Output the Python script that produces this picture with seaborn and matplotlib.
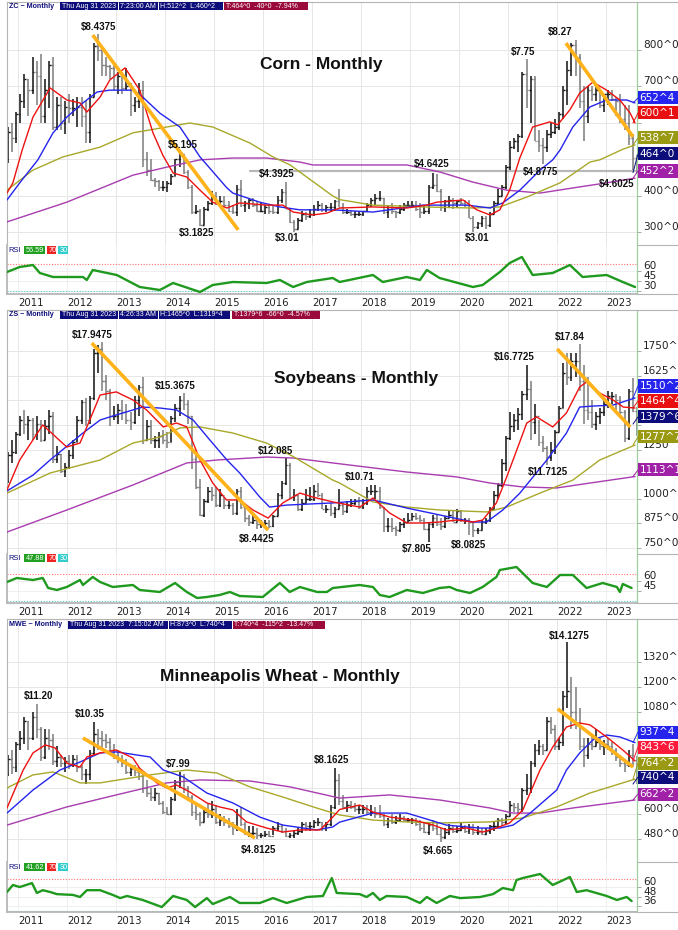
import numpy as np
import pandas as pd
import matplotlib
matplotlib.use("Agg")
import matplotlib.pyplot as plt
from matplotlib.lines import Line2D
from matplotlib.patches import Rectangle
import seaborn as sns

sns.set_theme(style="white")
plt.rcParams["font.family"] = ["DejaVu Sans"]

W, H = 678, 930

# monthly bars Oct 2010 .. Aug 2023
months = pd.date_range("2010-10-01", "2023-08-01", freq="MS")
t_bar = np.asarray(months.year + (months.month - 0.5) / 12.0)
years = list(range(2011, 2024))

# ---------------- Corn (cents) ----------------
corn_open0 = 500
corn_high = [590, 600, 630,
             680, 735, 720, 780, 770, 790, 720, 770, 780, 670, 670, 660,
             680, 665, 670, 670, 660, 680, 820, 843.75, 805, 780, 760, 760,
             740, 740, 750, 710, 670, 710, 715, 520, 500, 450, 445, 440,
             440, 460, 500, 519.5, 515, 470, 430, 375, 365, 370, 385, 415,
             410, 400, 400, 385, 375, 430, 445, 385, 395, 395, 385, 380,
             375, 375, 375, 400, 420, 439.25, 365, 335, 340, 360, 355, 365,
             375, 385, 380, 375, 380, 390, 420, 380, 365, 360, 360, 360,
             360, 380, 395, 405, 415, 395, 375, 380, 360, 375, 380, 385,
             385, 385, 380, 375, 430, 464.25, 460, 420, 390, 400, 395, 390,
             395, 390, 390, 345, 330, 345, 345, 355, 385, 420, 430, 485,
             550, 560, 570, 740, 775, 730, 730, 580, 560, 580, 600, 610,
             630, 700, 770, 820, 827, 790, 700, 700, 700, 700, 690, 680,
             690, 690, 670, 680, 650, 650, 570, 512.25]
corn_low = [490, 520, 545,
            600, 640, 620, 680, 650, 600, 600, 640, 580, 580, 580, 570,
            600, 620, 590, 590, 545, 545, 670, 770, 730, 730, 720, 690,
            680, 680, 690, 620, 630, 640, 480, 455, 440, 425, 415, 415,
            410, 430, 455, 480, 460, 420, 350, 350, 318.25, 320, 360, 375,
            375, 375, 370, 355, 350, 345, 370, 355, 365, 370, 355, 355,
            350, 350, 350, 350, 380, 365, 325, 301, 310, 330, 335, 340,
            345, 360, 355, 355, 360, 360, 370, 350, 350, 345, 340, 345,
            345, 355, 370, 375, 385, 350, 340, 350, 340, 350, 360, 370,
            370, 360, 340, 350, 350, 420, 410, 360, 355, 370, 365, 370,
            375, 370, 340, 301, 310, 315, 310, 315, 350, 375, 400, 420,
            470, 530, 520, 560, 640, 600, 550, 520, 487.75, 520, 560, 570,
            580, 610, 650, 730, 730, 640, 550, 600, 660, 660, 640, 630,
            650, 660, 620, 600, 580, 540, 470, 460.25]
corn_close = [575, 560, 625,
              660, 720, 690, 740, 730, 620, 690, 760, 590, 650, 600, 645,
              640, 640, 645, 620, 575, 670, 810, 800, 760, 755, 750, 700,
              730, 695, 700, 650, 660, 690, 500, 470, 445, 440, 425, 425,
              435, 455, 500, 515, 465, 425, 355, 360, 320, 365, 380, 397,
              385, 385, 375, 360, 355, 420, 375, 380, 390, 375, 360, 360,
              370, 360, 355, 390, 410, 365, 330, 310, 335, 350, 345, 350,
              365, 375, 365, 370, 370, 385, 370, 355, 355, 350, 350, 350,
              360, 375, 390, 395, 395, 355, 365, 360, 355, 365, 375, 375,
              375, 365, 355, 360, 425, 430, 415, 370, 385, 390, 380, 385,
              380, 375, 340, 315, 325, 340, 320, 350, 380, 400, 425, 480,
              535, 550, 565, 735, 690, 720, 550, 540, 535, 570, 575, 590,
              625, 690, 745, 815, 780, 660, 620, 690, 680, 690, 650, 680,
              680, 665, 660, 610, 600, 560, 504, 464]

corn_red_t = [2010.77, 2010.89, 2011.08, 2011.30, 2011.65, 2011.99, 2012.26, 2012.40, 2012.67, 2012.87,
              2013.18, 2013.48, 2013.75, 2013.95, 2014.16, 2014.44, 2014.71, 2014.97, 2015.26, 2015.52,
              2016.07, 2016.40, 2016.61, 2017.01, 2017.30, 2017.56, 2018.24, 2018.93, 2019.34, 2019.54,
              2020.08, 2020.36, 2020.63, 2020.83, 2021.03, 2021.24, 2021.50, 2021.85, 2022.01, 2022.26,
              2022.46, 2022.73, 2023.01, 2023.28, 2023.49, 2023.59]
corn_red_v = [408, 436, 526, 616, 696, 663, 655, 630, 671, 718,
              751, 690, 573, 512, 463, 452, 416, 383, 367, 381,
              375, 375, 356, 348, 353, 367, 370, 367, 375, 383,
              389, 362, 348, 362, 416, 505, 589, 603, 595, 636,
              682, 712, 690, 663, 627, 600]
corn_blue_t = [2010.77, 2011.03, 2011.40, 2011.71, 2011.99, 2012.32, 2012.61, 2012.87, 2013.34, 2013.54,
               2013.89, 2014.30, 2014.71, 2015.26, 2015.38, 2015.93, 2016.34, 2016.75, 2017.42, 2018.24,
               2019.26, 2020.16, 2020.63, 2020.89, 2021.24, 2021.65, 2021.91, 2022.06, 2022.32, 2022.67,
               2023.01, 2023.42, 2023.59]
corn_blue_v = [389, 436, 499, 573, 616, 655, 685, 690, 690, 671,
               627, 589, 507, 422, 408, 383, 370, 362, 362, 356,
               375, 375, 367, 381, 416, 471, 499, 526, 589, 644,
               663, 663, 655]
corn_olive_t = [2010.77, 2011.30, 2011.91, 2012.67, 2013.34, 2014.03, 2014.50, 2014.97, 2015.73, 2016.20,
                2016.55, 2017.42, 2017.56, 2018.24, 2019.26, 2020.28, 2020.83, 2021.38, 2022.06, 2022.67,
                2022.87, 2023.34, 2023.59]
corn_olive_v = [416, 471, 507, 534, 573, 589, 600, 589, 545, 507,
                485, 400, 390, 375, 370, 367, 370, 397, 436, 493,
                499, 528, 540]
corn_purple_t = [2010.77, 2011.99, 2013.34, 2014.03, 2014.71, 2015.38, 2016.07, 2016.75, 2017.01, 2017.56,
                 2018.93, 2019.60, 2020.28, 2020.97, 2021.65, 2022.32, 2023.01, 2023.59]
corn_purple_v = [329, 383, 457, 479, 499, 504, 504, 493, 485, 485,
                 485, 466, 438, 416, 408, 422, 436, 449]
corn_rsi_t = [2010.77, 2011.03, 2011.30, 2011.44, 2011.71, 2012.32, 2012.40, 2012.52, 2013.01, 2013.48,
              2013.89, 2014.16, 2014.71, 2014.97, 2015.38, 2016.07, 2016.34, 2016.61, 2016.89, 2017.42,
              2017.56, 2018.24, 2018.44, 2018.93, 2019.20, 2019.34, 2019.60, 2020.28, 2020.48, 2020.83,
              2021.03, 2021.28, 2021.50, 2021.91, 2022.26, 2022.52, 2023.01, 2023.34, 2023.59]
corn_rsi_v = [58.5, 66, 69, 57, 51, 51, 46.5, 61.5, 54, 36,
              31.5, 42, 28.5, 39, 43.5, 42, 46.5, 36, 43.5, 49.5,
              43.5, 54, 43.5, 51, 46.5, 61.5, 49.5, 36, 39, 58.5,
              72, 81, 54, 57, 69, 51, 54, 43.5, 36]
corn_trend1_t, corn_trend1_v = [2012.52, 2015.49], [841, 307]
corn_trend2_t, corn_trend2_v = [2022.18, 2023.55], [819, 562]
corn_support_t, corn_support_v = [2015.73, 2023.63], [468, 468]

# ---------------- Soybeans (cents) ----------------
soy_open0 = 1090
soy_high = [1240, 1300, 1340,
            1420, 1450, 1420, 1410, 1420, 1400, 1400, 1450, 1440, 1270, 1230, 1180,
            1250, 1300, 1420, 1500, 1510, 1520, 1760, 1780, 1794.75, 1630, 1560, 1470,
            1480, 1500, 1480, 1440, 1520, 1580, 1620, 1400, 1400, 1320, 1340, 1350,
            1340, 1420, 1480, 1520, 1536.75, 1500, 1420, 1250, 1100, 1000, 1060, 1060,
            1060, 1050, 1010, 990, 980, 1050, 1060, 970, 920, 920, 900, 890,
            890, 890, 920, 1030, 1090, 1208.5, 1180, 1050, 1020, 1000, 1050, 1060,
            1070, 1080, 1030, 970, 980, 960, 1050, 980, 990, 1000, 1000, 1010,
            1000, 1060, 1071, 1070, 1060, 960, 900, 900, 860, 880, 900, 930,
            930, 930, 920, 900, 880, 920, 920, 900, 910, 940, 940, 950,
            945, 900, 900, 880, 850, 890, 900, 960, 1040, 1080, 1200, 1320,
            1440, 1430, 1460, 1550, 1677.25, 1600, 1480, 1400, 1320, 1270, 1290, 1350,
            1470, 1690, 1740, 1740, 1740, 1784, 1680, 1620, 1500, 1440, 1460, 1500,
            1550, 1540, 1530, 1520, 1450, 1560, 1613, 1465]
soy_low = [1080, 1180, 1230,
           1320, 1330, 1300, 1300, 1300, 1290, 1300, 1330, 1180, 1180, 1130, 1110,
           1150, 1200, 1290, 1380, 1370, 1380, 1500, 1640, 1550, 1500, 1370, 1400,
           1380, 1400, 1380, 1350, 1380, 1420, 1280, 1300, 1280, 1260, 1260, 1280,
           1260, 1290, 1390, 1420, 1450, 1380, 1150, 1050, 910, 906, 980, 990,
           960, 960, 950, 950, 920, 920, 950, 880, 860, 870, 844.25, 850,
           855, 850, 855, 910, 1000, 1070, 1000, 990, 940, 940, 980, 990,
           990, 1010, 950, 930, 910, 900, 950, 920, 930, 960, 970, 950,
           950, 970, 1020, 1000, 950, 830, 830, 830, 812, 830, 850, 880,
           890, 890, 880, 840, 780.5, 850, 860, 840, 850, 900, 880, 880,
           880, 870, 815, 808.25, 820, 840, 870, 880, 950, 1000, 1060, 1140,
           1300, 1340, 1350, 1400, 1500, 1300, 1330, 1270, 1240, 1171.25, 1190, 1230,
           1340, 1460, 1580, 1600, 1620, 1550, 1380, 1400, 1360, 1350, 1380, 1420,
           1460, 1480, 1440, 1430, 1290, 1300, 1440, 1319.5]
soy_close = [1220, 1240, 1330,
             1400, 1380, 1400, 1330, 1380, 1300, 1370, 1420, 1200, 1230, 1140, 1160,
             1220, 1290, 1400, 1490, 1400, 1510, 1740, 1760, 1600, 1550, 1420, 1420,
             1450, 1440, 1400, 1390, 1500, 1570, 1300, 1370, 1300, 1300, 1320, 1300,
             1290, 1410, 1460, 1500, 1480, 1420, 1200, 1060, 920, 990, 1040, 1020,
             970, 1020, 970, 970, 930, 1040, 960, 900, 880, 890, 870, 870,
             875, 860, 910, 1020, 1080, 1170, 1010, 1020, 950, 980, 1000, 1000,
             1040, 1020, 950, 950, 930, 950, 970, 940, 970, 980, 990, 960,
             980, 1040, 1040, 1040, 960, 860, 860, 850, 840, 870, 880, 890,
             915, 900, 890, 845, 870, 900, 870, 860, 900, 920, 880, 940,
             890, 890, 880, 840, 840, 880, 890, 950, 1020, 1070, 1180, 1310,
             1370, 1400, 1430, 1530, 1560, 1390, 1420, 1290, 1260, 1210, 1250, 1340,
             1460, 1640, 1620, 1700, 1700, 1600, 1450, 1440, 1380, 1420, 1440, 1480,
             1520, 1520, 1500, 1440, 1310, 1550, 1445, 1379.75]

soy_red_t = [2010.77, 2011.03, 2011.50, 2011.99, 2012.26, 2012.46, 2012.67, 2013.00, 2013.34, 2013.62,
             2013.96, 2014.23, 2014.44, 2014.71, 2014.97, 2015.25, 2015.52, 2015.79, 2016.10, 2016.40,
             2016.75, 2017.01, 2017.42, 2017.97, 2018.24, 2018.58, 2018.93, 2019.26, 2019.60, 2019.95,
             2020.28, 2020.48, 2020.76, 2020.97, 2021.10, 2021.38, 2021.58, 2021.91, 2022.19, 2022.46,
             2022.60, 2022.87, 2023.14, 2023.35, 2023.59]
soy_red_v = [1045, 1197, 1375, 1263, 1283, 1400, 1527, 1543, 1502, 1451,
             1365, 1385, 1365, 1197, 1080, 994, 994, 943, 902, 979,
             1029, 1009, 984, 958, 1004, 928, 877, 877, 882, 892,
             882, 892, 979, 1111, 1197, 1385, 1416, 1365, 1436, 1568,
             1593, 1537, 1502, 1466, 1461]
soy_blue_t = [2010.77, 2011.30, 2011.65, 2012.32, 2012.67, 2013.00, 2013.54, 2013.89, 2014.23, 2014.57,
              2014.91, 2015.26, 2015.52, 2015.93, 2016.13, 2016.48, 2017.42, 2018.24, 2018.93, 2019.60,
              2020.28, 2020.56, 2020.89, 2021.24, 2021.79, 2022.19, 2022.46, 2022.73, 2023.14, 2023.59]
soy_blue_v = [1040, 1120, 1197, 1334, 1400, 1426, 1466, 1461, 1451, 1400,
              1299, 1197, 1131, 1009, 958, 968, 979, 994, 953, 918,
              882, 882, 943, 1029, 1197, 1334, 1466, 1471, 1476, 1512]
soy_olive_t = [2010.77, 2011.65, 2012.67, 2013.34, 2013.89, 2014.30, 2014.71, 2015.38, 2016.07, 2016.61,
               2017.42, 2017.56, 2018.24, 2018.93, 2019.60, 2020.56, 2020.97, 2021.65, 2022.32, 2022.87,
               2023.59]
soy_olive_v = [1029, 1131, 1197, 1283, 1314, 1360, 1365, 1334, 1283, 1215,
               1095, 1080, 984, 958, 943, 933, 958, 1029, 1095, 1197,
               1273]
soy_purple_t = [2010.77, 2011.99, 2013.34, 2014.44, 2015.05, 2016.07, 2016.61, 2017.42, 2018.93, 2019.95,
                2020.63, 2021.30, 2021.99, 2022.67, 2023.59]
soy_purple_v = [831, 943, 1070, 1182, 1197, 1212, 1207, 1182, 1136, 1111,
                1080, 1060, 1055, 1080, 1113]
soy_rsi_t = [2010.77, 2010.97, 2011.30, 2011.50, 2011.61, 2011.79, 2011.99, 2012.26, 2012.32, 2012.52,
             2012.67, 2012.93, 2013.34, 2013.48, 2013.89, 2014.20, 2014.44, 2014.65, 2014.85, 2015.11,
             2015.32, 2015.52, 2015.99, 2016.34, 2016.54, 2016.75, 2017.10, 2017.30, 2017.42, 2017.97,
             2018.24, 2018.38, 2018.58, 2018.93, 2019.26, 2019.60, 2019.81, 2019.95, 2020.22, 2020.48,
             2020.76, 2020.83, 2021.17, 2021.50, 2021.79, 2022.06, 2022.32, 2022.60, 2022.93, 2023.22,
             2023.28, 2023.34, 2023.52]
soy_rsi_v = [58.5, 64.5, 61.5, 64.5, 49.5, 46.5, 51, 61.5, 54, 66,
             58.5, 51, 54, 46.5, 43.5, 57, 43.5, 34.5, 36, 39,
             43.5, 37.5, 36, 57, 43.5, 51, 43.5, 43.5, 49.5, 54,
             51, 39, 36, 46.5, 42, 49.5, 51, 46.5, 42, 51,
             66, 76.5, 81, 57, 51, 69, 69, 49.5, 57, 51,
             43.5, 55.5, 49.5]
soy_trend1_t, soy_trend1_v = [2012.50, 2016.10], [1791, 841]
soy_trend2_t, soy_trend2_v = [2022.00, 2023.49], [1761, 1365]

# ---------------- Minneapolis wheat (cents) ----------------
mwe_open0 = 790
mwe_high = [880, 900, 940,
            990, 1060, 1040, 1080, 1120, 1010, 1000, 1000, 980, 920, 880, 870,
            880, 880, 880, 830, 810, 900, 1035, 1000, 990, 980, 960, 930,
            900, 880, 860, 830, 830, 820, 790, 760, 720, 720, 700, 660,
            630, 680, 760, 799, 790, 730, 690, 640, 610, 620, 650, 660,
            640, 600, 590, 580, 560, 620, 630, 560, 540, 540, 530, 510,
            520, 520, 540, 560, 550, 530, 510, 520, 530, 560, 560, 560,
            570, 580, 560, 560, 640, 816.25, 790, 690, 660, 660, 650, 640,
            640, 640, 640, 630, 640, 600, 580, 600, 590, 600, 590, 580,
            580, 580, 570, 560, 560, 570, 560, 530, 530, 550, 545, 540,
            560, 545, 550, 550, 540, 530, 530, 545, 560, 580, 580, 600,
            660, 650, 650, 720, 790, 850, 930, 950, 930, 1060, 1060, 1020,
            960, 1180, 1412.75, 1250, 1200, 1100, 960, 960, 980, 1000, 960, 950,
            960, 940, 910, 880, 860, 900, 930, 873]
mwe_low = [780, 790, 800,
           900, 930, 900, 950, 960, 850, 860, 900, 830, 820, 820, 800,
           810, 820, 800, 760, 740, 760, 880, 900, 900, 910, 880, 860,
           840, 820, 790, 780, 780, 760, 700, 680, 660, 660, 640, 600,
           595, 595, 660, 720, 700, 660, 590, 570, 540, 560, 580, 580,
           550, 540, 540, 530, 500, 520, 540, 500, 490, 500, 481.25, 485,
           490, 490, 500, 520, 510, 490, 485, 485, 500, 510, 520, 520,
           530, 540, 520, 520, 540, 620, 640, 620, 610, 620, 610, 600,
           600, 600, 590, 580, 580, 540, 530, 550, 550, 560, 560, 560,
           550, 540, 520, 510, 500, 520, 500, 466.5, 480, 500, 510, 510,
           520, 510, 505, 500, 500, 500, 500, 505, 520, 530, 540, 550,
           590, 610, 600, 610, 690, 700, 820, 880, 880, 900, 980, 900,
           900, 920, 1100, 1000, 1000, 900, 820, 860, 900, 920, 900, 880,
           900, 880, 850, 820, 800, 820, 820, 740.4]
mwe_close = [860, 820, 930,
             960, 1040, 960, 1060, 1000, 870, 960, 950, 850, 870, 840, 850,
             830, 860, 820, 790, 790, 890, 980, 960, 950, 940, 900, 880,
             860, 840, 800, 810, 800, 780, 720, 700, 680, 700, 650, 610,
             600, 670, 750, 780, 720, 680, 610, 600, 560, 610, 600, 620,
             560, 570, 560, 540, 530, 600, 550, 510, 510, 510, 500, 500,
             505, 495, 530, 540, 520, 495, 500, 510, 520, 550, 540, 540,
             560, 560, 540, 550, 630, 760, 660, 630, 640, 630, 620, 620,
             620, 610, 610, 600, 590, 550, 570, 560, 570, 580, 570, 570,
             570, 550, 530, 515, 545, 530, 505, 490, 515, 530, 520, 525,
             535, 520, 535, 515, 515, 505, 520, 540, 540, 570, 560, 590,
             640, 630, 620, 710, 720, 840, 900, 920, 900, 1040, 1000, 920,
             940, 1160, 1180, 1080, 1020, 920, 880, 930, 920, 940, 920, 930,
             920, 900, 870, 840, 830, 880, 855, 740.4]

mwe_red_t = [2010.77, 2011.10, 2011.30, 2011.55, 2011.75, 2011.99, 2012.26, 2012.40, 2012.67, 2013.00,
             2013.34, 2013.48, 2013.83, 2014.03, 2014.23, 2014.50, 2014.85, 2015.11, 2015.38, 2015.66,
             2016.07, 2016.40, 2016.75, 2017.16, 2017.42, 2017.56, 2017.97, 2018.24, 2018.58, 2019.06,
             2019.47, 2019.74, 2020.15, 2020.48, 2020.76, 2021.03, 2021.30, 2021.65, 2021.91, 2022.19,
             2022.46, 2022.67, 2023.01, 2023.34, 2023.59]
mwe_red_v = [627, 807, 888, 926, 912, 840, 821, 869, 888, 902,
             864, 815, 746, 722, 736, 703, 651, 632, 618, 561,
             532, 513, 523, 523, 584, 620, 641, 608, 584, 570,
             546, 523, 532, 513, 532, 556, 618, 807, 916, 1011,
             1030, 1021, 964, 902, 850]
mwe_blue_t = [2010.77, 2011.30, 2011.85, 2012.26, 2012.67, 2013.00, 2013.69, 2013.96, 2014.37, 2014.85,
              2015.38, 2015.93, 2016.40, 2017.09, 2017.42, 2017.56, 2018.24, 2018.93, 2019.26, 2019.74,
              2020.41, 2020.83, 2021.10, 2021.45, 2021.99, 2022.19, 2022.46, 2022.73, 2023.01, 2023.28,
              2023.59]
mwe_blue_v = [603, 712, 807, 845, 888, 893, 869, 807, 774, 698,
              651, 584, 546, 523, 537, 560, 603, 603, 580, 546,
              532, 532, 546, 603, 712, 807, 888, 950, 973, 964,
              937]
mwe_olive_t = [2010.77, 2011.30, 2011.71, 2012.26, 2012.67, 2013.69, 2014.44, 2015.05, 2015.73, 2016.40,
               2017.09, 2017.56, 2018.24, 2018.93, 2019.60, 2020.63, 2021.30, 2021.99, 2022.67, 2023.59]
mwe_olive_v = [722, 784, 798, 746, 746, 784, 807, 793, 727, 679,
               627, 594, 570, 561, 556, 561, 580, 632, 698, 764]
mwe_purple_t = [2010.77, 2011.99, 2013.00, 2014.03, 2014.71, 2015.73, 2016.55, 2017.56, 2018.58, 2019.60,
                2020.63, 2021.10, 2021.65, 2022.32, 2023.59]
mwe_purple_v = [546, 632, 689, 746, 760, 755, 727, 674, 689, 665,
                627, 603, 603, 627, 665]
mwe_rsi_t = [2010.77, 2010.89, 2011.03, 2011.28, 2011.38, 2011.50, 2011.65, 2011.79, 2012.12, 2012.26,
             2012.40, 2012.67, 2012.93, 2013.08, 2013.22, 2013.54, 2013.93, 2014.16, 2014.44, 2014.61,
             2014.85, 2014.97, 2015.32, 2015.52, 2015.93, 2016.20, 2016.48, 2016.89, 2017.22, 2017.40,
             2017.50, 2017.97, 2018.11, 2018.24, 2018.38, 2018.52, 2018.93, 2019.20, 2019.34, 2019.54,
             2019.81, 2020.02, 2020.43, 2020.69, 2020.89, 2021.10, 2021.17, 2021.30, 2021.65, 2021.91,
             2022.26, 2022.40, 2022.60, 2023.01, 2023.22, 2023.42, 2023.52]
mwe_rsi_v = [53.7, 62.6, 60, 65, 52.5, 56, 53.7, 51, 50, 47.4,
             56, 56, 50, 46, 48.7, 43.6, 34.7, 48.7, 43.6, 34.7,
             46, 38.5, 47.4, 39.8, 39.8, 46, 39.8, 47.4, 48.7, 71.4,
             52.5, 51, 47.4, 52.5, 43.6, 48.7, 47.4, 39.8, 47.4, 39.8,
             48.7, 46, 47.4, 51, 58.8, 56, 68.9, 71.4, 76.5, 62.6,
             72.7, 53.7, 56, 48.7, 43.6, 47.4, 42.3]
mwe_trend1_t, mwe_trend1_v = [2012.32, 2015.83], [959, 485]
mwe_trend2_t, mwe_trend2_v = [2022.01, 2023.55], [1097, 821]

# ---------------- colours ----------------
C_RED, C_BLUE, C_OLIVE, C_PURPLE = "#ee1111", "#2424ee", "#a8a82a", "#a83cb0"
C_NAVY, C_MAROON, C_ORANGE, C_RSI = "#0c0c7a", "#9a0a3a", "#ffb21a", "#1f9a1f"

fig = plt.figure(figsize=(W / 100, H / 100), dpi=100)
fig.patch.set_facecolor("white")


def fx(x):
    return x / W


def fy(y):
    return 1 - y / H


def fig_line(x0, y0, x1, y1, color="#b4b4b4", lw=0.8):
    fig.add_artist(Line2D([fx(x0), fx(x1)], [fy(y0), fy(y1)],
                          transform=fig.transFigure, color=color, lw=lw))


def fig_box(x0, x1, yc, h, fc, s, fs, tc="white", family="DejaVu Sans"):
    fig.add_artist(Rectangle((fx(x0), fy(yc + h / 2)), (x1 - x0) / W, h / H,
                             transform=fig.transFigure, fc=fc, ec="none", zorder=5))
    fig.text(fx(x0 + 1.5), fy(yc), s, ha="left", va="center", fontsize=fs,
             color=tc, family=family, zorder=6)


def draw_panel(d, lay):
    y0, ym, y1 = lay["rows"]
    # ---- price pane ----
    ax = fig.add_axes([fx(7), fy(ym), fx(637) - fx(7), (ym - y0) / H])
    ax.set_xlim(2010.77, 2023.63)
    ax.set_ylim(*lay["ylim"])
    o = np.r_[d["open0"], np.asarray(d["close"][:-1], float)]
    c = np.asarray(d["close"], float)
    cols = np.where(c >= o, "#111111", "#7c7c7c")
    ax.vlines(t_bar, d["low"], d["high"], colors=cols, lw=1.1, zorder=2)
    ax.hlines(o, t_bar - 0.035, t_bar, colors=cols, lw=1.0, zorder=2)
    ax.hlines(c, t_bar, t_bar + 0.035, colors=cols, lw=1.0, zorder=2)
    for key, col in [("purple", C_PURPLE), ("olive", C_OLIVE), ("blue", C_BLUE), ("red", C_RED)]:
        sns.lineplot(x=d[key + "_t"], y=d[key + "_v"], ax=ax, color=col, linewidth=1.0, zorder=3)
    for tt, vv in d["trends"]:
        ax.plot(tt, vv, color=C_ORANGE, lw=2.6, solid_capstyle="butt", zorder=4)
    if "support" in d:
        ax.plot(*d["support"], color="#b8b8b8", lw=1.6, zorder=1)
    for s, tx, ty in d["notes"]:
        ax.text(tx, ty, s, ha="center", va="center", fontsize=7, fontweight="bold",
                family="Liberation Sans", color="#111111", zorder=6)
    ax.set_xticks(years)
    ax.yaxis.tick_right()
    ax.set_yticks(lay["yticks"])
    ax.set_yticklabels([f"{v}^0" if v in lay["ylabels"] else "" for v in lay["yticks"]])
    for lbl in ax.get_yticklabels():
        lbl.set_va("bottom")
    ax.tick_params(axis="y", length=3, width=0.6, color="#999999", pad=1.5,
                   labelsize=7.6, labelcolor="#222222")
    ax.tick_params(axis="x", length=0, labelbottom=False)
    ax.grid(True, color="#e6e6e6", lw=0.7)
    ax.set_axisbelow(True)
    ax.set_xlabel("")
    ax.set_ylabel("")
    for sp in ["left", "top"]:
        ax.spines[sp].set_color("#b4b4b4")
        ax.spines[sp].set_linewidth(0.8)
    ax.spines["right"].set_color("#9fd09f")
    ax.spines["right"].set_linewidth(0.9)
    ax.spines["bottom"].set_visible(False)

    # ---- RSI pane ----
    ar = fig.add_axes([fx(7), fy(y1), fx(637) - fx(7), (y1 - ym) / H])
    ar.set_xlim(2010.77, 2023.63)
    ar.set_ylim(*lay["rsi_ylim"])
    ar.axhline(70, color="#ff7070", lw=0.8, ls=(0, (1, 1.5)), zorder=1)
    ar.axhline(30, color="#55c8c8", lw=0.8, ls=(0, (1, 1.5)), zorder=1)
    sns.lineplot(x=d["rsi_t"], y=d["rsi_v"], ax=ar, color=C_RSI, linewidth=1.7, zorder=3)
    ar.set_xticks(years)
    ar.set_xticklabels([str(y) for y in years])
    for lbl in ar.get_xticklabels():
        lbl.set_ha("left")
    ar.tick_params(axis="x", length=0, pad=3, labelsize=7.3, labelcolor="#222222")
    ar.yaxis.tick_right()
    ar.set_yticks(lay["rsi_ticks"])
    for lbl in ar.get_yticklabels():
        lbl.set_va("bottom")
    ar.tick_params(axis="y", length=3, width=0.6, color="#999999", pad=1.5,
                   labelsize=7.6, labelcolor="#222222")
    ar.grid(True, color="#ececec", lw=0.6)
    ar.set_axisbelow(True)
    ar.set_xlabel("")
    ar.set_ylabel("")
    ar.spines["left"].set_color("#b4b4b4")
    ar.spines["bottom"].set_color("#b4b4b4")
    ar.spines["right"].set_color("#9fd09f")
    ar.spines["right"].set_linewidth(0.9)
    ar.spines["top"].set_visible(False)

    # frame pieces in the axis column
    fig_line(637, y0, 678, y0)
    fig_line(637, ym, 678, ym)
    fig_line(637, y1, 678, y1)

    # title
    fig.text(fx(lay["title_xy"][0]), fy(lay["title_xy"][1]), d["title"], ha="center", va="center",
             fontsize=12.5, fontweight="bold", family="Liberation Sans", color="#111111")

    # header strip
    hy = lay["head_y"]
    fig.text(fx(9), fy(hy), d["symbol"], ha="left", va="center", fontsize=5.1,
             fontweight="bold", family="Liberation Sans", color=C_NAVY)
    for (s, col), (a, b) in zip(d["header"], lay["head_x"]):
        fig_box(a, b, hy, 8, col, s, 5.0, family="Liberation Sans")

    # RSI legend
    ry = lay["rsi_leg_y"]
    fig.text(fx(8), fy(ry), "RSI", ha="left", va="center", fontsize=5.4,
             family="Liberation Sans", color=C_NAVY)
    fig_box(24, 45, ry, 8, "#22a022", d["rsi_label"], 5.3, family="Liberation Sans")
    fig_box(47, 56, ry, 8, "#ee2222", "70", 5.3, family="Liberation Sans")
    fig_box(58, 68, ry, 8, "#33cccc", "30", 5.3, family="Liberation Sans")

    # value boxes at the right, with thin leaders from the last value
    inv = fig.transFigure.inverted()
    for (s, col, val), yc in zip(d["boxes"], lay["box_y"]):
        fig_box(638, 679, yc, 13, col, s, 7.6)
        yv = inv.transform(ax.transData.transform((2023.63, val)))[1]
        fig.add_artist(Line2D([fx(633), fx(638)], [yv, fy(yc)], transform=fig.transFigure,
                              color=col, lw=0.7, zorder=4))


corn = dict(open0=corn_open0, high=corn_high, low=corn_low, close=corn_close,
            red_t=corn_red_t, red_v=corn_red_v, blue_t=corn_blue_t, blue_v=corn_blue_v,
            olive_t=corn_olive_t, olive_v=corn_olive_v, purple_t=corn_purple_t, purple_v=corn_purple_v,
            rsi_t=corn_rsi_t, rsi_v=corn_rsi_v,
            trends=[(corn_trend1_t, corn_trend1_v), (corn_trend2_t, corn_trend2_v)],
            support=(corn_support_t, corn_support_v),
            notes=[("$8.4375", 2012.63, 863), ("$5.195", 2014.36, 540), ("$4.3925", 2016.27, 460),
                   ("$3.1825", 2014.64, 299), ("$3.01", 2016.49, 285), ("$4.6425", 2019.43, 488),
                   ("$3.01", 2020.36, 285), ("$4.8775", 2021.65, 466), ("$4.6025", 2023.21, 433),
                   ("$7.75", 2021.30, 795), ("$8.27", 2022.07, 849)],
            title="Corn - Monthly", symbol="ZC ~ Monthly",
            header=[("Thu Aug 31 2023", C_NAVY), ("7:23:00 AM", C_NAVY),
                    ("H:512^2  L:460^2", C_NAVY), ("T:464^0  -40^0  -7.94%", C_MAROON)],
            rsi_label="56.59",
            boxes=[("652^4", C_BLUE, corn_blue_v[-1]), ("600^1", "#e81010", corn_red_v[-1]),
                   ("538^7", "#9a9a12", corn_olive_v[-1]), ("464^0", C_NAVY, corn_close[-1]),
                   ("452^2", "#a020a8", corn_purple_v[-1])])

soy = dict(open0=soy_open0, high=soy_high, low=soy_low, close=soy_close,
           red_t=soy_red_t, red_v=soy_red_v, blue_t=soy_blue_t, blue_v=soy_blue_v,
           olive_t=soy_olive_t, olive_v=soy_olive_v, purple_t=soy_purple_t, purple_v=soy_purple_v,
           rsi_t=soy_rsi_t, rsi_v=soy_rsi_v,
           trends=[(soy_trend1_t, soy_trend1_v), (soy_trend2_t, soy_trend2_v)],
           notes=[("$17.9475", 2012.50, 1832), ("$15.3675", 2014.20, 1573), ("$12.085", 2016.24, 1243),
                  ("$8.4425", 2015.86, 796), ("$10.71", 2017.97, 1111), ("$7.805", 2019.13, 745),
                  ("$8.0825", 2020.18, 765), ("$11.7125", 2021.81, 1136), ("$16.7725", 2021.13, 1720),
                  ("$17.84", 2022.26, 1822)],
           title="Soybeans - Monthly", symbol="ZS ~ Monthly",
           header=[("Thu Aug 31 2023", C_NAVY), ("4:26:33 AM", C_NAVY),
                   ("H:1465^0  L:1319^4", C_NAVY), ("T:1379^6  -66^0  -4.57%", C_MAROON)],
           rsi_label="47.88",
           boxes=[("1510^2", C_BLUE, soy_blue_v[-1]), ("1464^4", "#e81010", soy_red_v[-1]),
                  ("1379^6", C_NAVY, soy_close[-1]), ("1277^7", "#9a9a12", soy_olive_v[-1]),
                  ("1113^1", "#a020a8", soy_purple_v[-1])])

mwe = dict(open0=mwe_open0, high=mwe_high, low=mwe_low, close=mwe_close,
           red_t=mwe_red_t, red_v=mwe_red_v, blue_t=mwe_blue_t, blue_v=mwe_blue_v,
           olive_t=mwe_olive_t, olive_v=mwe_olive_v, purple_t=mwe_purple_t, purple_v=mwe_purple_v,
           rsi_t=mwe_rsi_t, rsi_v=mwe_rsi_v,
           trends=[(mwe_trend1_t, mwe_trend1_v), (mwe_trend2_t, mwe_trend2_v)],
           notes=[("$11.20", 2011.42, 1158), ("$10.35", 2012.46, 1073), ("$7.99", 2014.26, 836),
                  ("$8.1625", 2017.40, 855), ("$4.8125", 2015.91, 428), ("$4.665", 2019.56, 423),
                  ("$14.1275", 2022.24, 1443)],
           title="Minneapolis Wheat - Monthly", symbol="MWE ~ Monthly",
           header=[("Thu Aug 31 2023", C_NAVY), ("7:15:02 AM", C_NAVY),
                   ("H:873^0  L:740^4", C_NAVY), ("T:740^4  -115^2  -13.47%", C_MAROON)],
           rsi_label="41.62",
           boxes=[("937^4", C_BLUE, mwe_blue_v[-1]), ("843^6", "#ff1a3c", mwe_red_v[-1]),
                  ("764^2", "#9a9a12", mwe_olive_v[-1]), ("740^4", C_NAVY, mwe_close[-1]),
                  ("662^2", "#a020a8", mwe_purple_v[-1])])

layouts = [
    dict(rows=(2, 245, 294), ylim=(265.7, 931.5), yticks=[300, 400, 500, 600, 700, 800],
         ylabels=[300, 400, 700, 800],
         rsi_ylim=(25.5, 99), rsi_ticks=[30, 45, 60], title_xy=(321, 64), head_y=6.5,
         head_x=[(60, 118), (119, 158), (159, 223), (224, 308)], rsi_leg_y=250,
         box_y=[98, 113, 138, 154, 171]),
    dict(rows=(310, 554, 603), ylim=(719.5, 1959), yticks=list(range(750, 1751, 125)),
         ylabels=[750, 875, 1000, 1250, 1625, 1750],
         rsi_ylim=(27, 100.5), rsi_ticks=[45, 60], title_xy=(356, 378), head_y=315,
         head_x=[(60, 118), (119, 158), (159, 230), (232, 320)], rsi_leg_y=558,
         box_y=[386, 401, 417, 437, 470]),
    dict(rows=(619, 862, 912), ylim=(371, 1523), yticks=list(range(480, 1321, 120)),
         ylabels=[480, 600, 1080, 1200, 1320],
         rsi_ylim=(28.4, 91.7), rsi_ticks=[36, 48, 60], title_xy=(280, 677), head_y=625,
         head_x=[(68, 127), (127, 168), (169, 232), (233, 325)], rsi_leg_y=867,
         box_y=[732, 747, 763, 777, 794]),
]

for d, lay in zip([corn, soy, mwe], layouts):
    draw_panel(d, lay)

fig.savefig("out.png", dpi=100, facecolor="white")
